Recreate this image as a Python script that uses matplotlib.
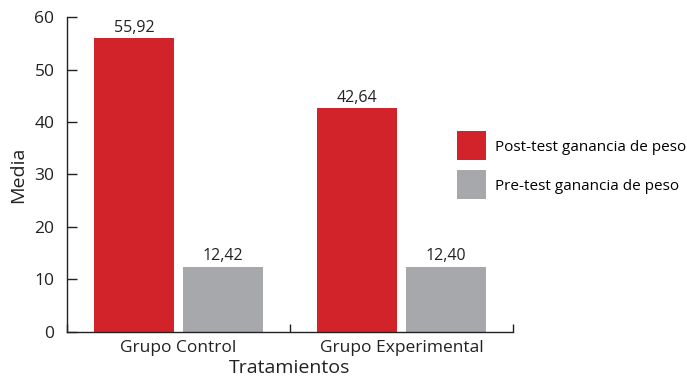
import matplotlib.pyplot as plt
from matplotlib.patches import Patch
import numpy as np

plt.rcParams['font.family'] = ['Open Sans', 'DejaVu Sans']

groups = ["Grupo Control", "Grupo Experimental"]
post_test = [55.92, 42.64]
pre_test = [12.42, 12.40]
series_names = ["Post-test ganancia de peso", "Pre-test ganancia de peso"]
colors = ["#D2232B", "#A7A8AB"]

fig = plt.figure(figsize=(6.87, 3.83), dpi=100)
ax = fig.add_axes([0.0975, 0.1332, 0.6492, 0.8224])

x = np.arange(len(groups))
width = 0.36
offset = 0.2
for vals, col, dx in [(post_test, colors[0], -offset), (pre_test, colors[1], offset)]:
    bars = ax.bar(x + dx, vals, width, color=col)
    for b, v in zip(bars, vals):
        ax.text(b.get_x() + b.get_width() / 2, v + 0.5, f"{v:.2f}".replace(".", ","),
                ha="center", va="bottom", fontsize=11.5, color="#222222")

ax.set_xlim(-0.5, 1.5)
ax.set_ylim(0, 60)
ax.set_yticks(range(0, 61, 10))
ax.set_xticks(x)
ax.set_xticklabels(groups)
ax.set_xticks([-0.5, 0.5, 1.5], minor=True)

ax.spines["top"].set_visible(False)
ax.spines["right"].set_visible(False)
for s in ("left", "bottom"):
    ax.spines[s].set_linewidth(1.0)
    ax.spines[s].set_color("#222222")

ax.tick_params(axis="y", direction="in", length=7, width=1.0, labelsize=12.5, pad=9, colors="#222222")
ax.tick_params(axis="x", which="major", length=0, labelsize=12.5, pad=6, colors="#222222")
ax.tick_params(axis="x", which="minor", direction="in", length=6, width=1.0, color="#222222")

ax.set_ylabel("Media", fontsize=14, color="#222222", labelpad=5)
ax.set_xlabel("Tratamientos", fontsize=14, color="#222222", labelpad=2)

handles = [Patch(facecolor=c, edgecolor="none") for c in colors]
fig.legend(handles, series_names, loc="upper left", bbox_to_anchor=(0.665, 0.657),
           frameon=False, fontsize=11, handlelength=1.9, handleheight=2.55,
           handletextpad=0.6, labelspacing=0.65, borderpad=0, borderaxespad=0)

fig.savefig("out.png", dpi=100)
